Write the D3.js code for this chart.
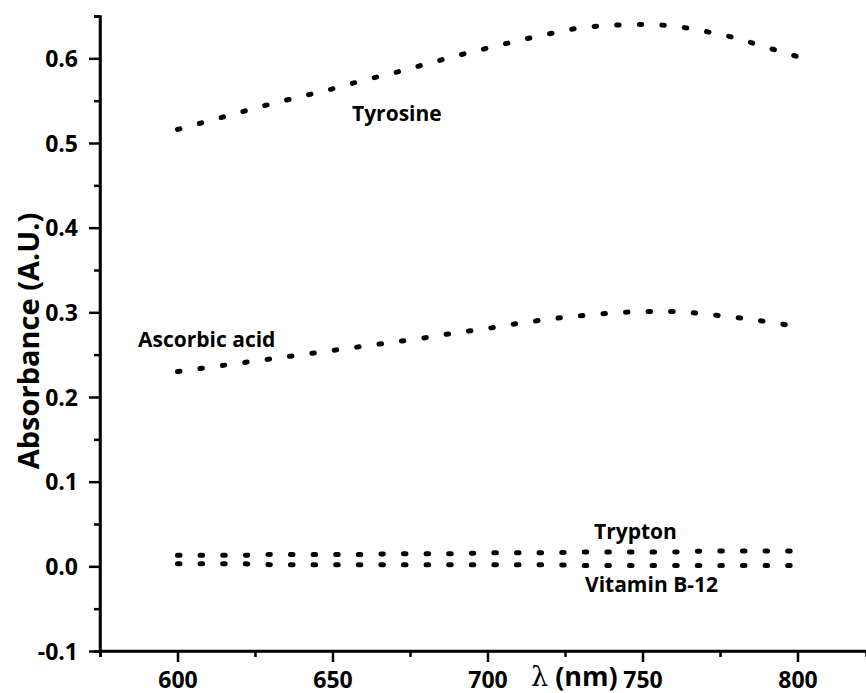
<!DOCTYPE html>
<html>
<head>
<meta charset="utf-8">
<script src="https://cdn.jsdelivr.net/npm/d3@7"></script>
<style>
  html, body { margin: 0; padding: 0; background: #fff; }
  #chart { width: 866px; height: 693px; }
  text { font-family: "Open Sans", Lato, sans-serif; font-weight: bold; fill: #000; }
</style>
</head>
<body>
<div id="chart"></div>
<script>
// wavelength (nm)
const wavelengths = [600, 610, 620, 630, 640, 650, 660, 670, 680, 690, 700,
                     710, 720, 730, 740, 750, 760, 770, 780, 790, 800];

// absorbance (A.U.)
const tyrosine = [0.516, 0.526, 0.536, 0.546, 0.555, 0.564, 0.574, 0.583, 0.593, 0.603, 0.612,
                  0.621, 0.629, 0.636, 0.639, 0.640, 0.638, 0.632, 0.624, 0.613, 0.602];
const ascorbicAcid = [0.230, 0.235, 0.240, 0.245, 0.250, 0.255, 0.260, 0.265, 0.270, 0.276, 0.281,
                      0.287, 0.292, 0.296, 0.299, 0.301, 0.301, 0.298, 0.294, 0.289, 0.283];
const trypton = [0.013, 0.013, 0.013, 0.014, 0.014, 0.014, 0.014, 0.015, 0.015, 0.015, 0.016,
                 0.016, 0.016, 0.017, 0.017, 0.017, 0.017, 0.018, 0.018, 0.018, 0.018];
const vitaminB12 = [0.003, 0.003, 0.003, 0.002, 0.002, 0.002, 0.002, 0.002, 0.002, 0.002, 0.002,
                    0.002, 0.002, 0.001, 0.001, 0.001, 0.001, 0.001, 0.001, 0.001, 0.001];

const seriesNames = ["Tyrosine", "Ascorbic acid", "Trypton", "Vitamin B-12"];
const seriesValues = [tyrosine, ascorbicAcid, trypton, vitaminB12];

const xTicks = [600, 650, 700, 750, 800];
const xMinorTicks = [575, 625, 675, 725, 775];
const yTicks = [-0.1, 0.0, 0.1, 0.2, 0.3, 0.4, 0.5, 0.6];
const yMinorTicks = [-0.05, 0.05, 0.15, 0.25, 0.35, 0.45, 0.55, 0.65];

const width = 866, height = 693;
const margin = { left: 100, top: 16, bottom: 42 };

const svg = d3.select("#chart").append("svg")
    .attr("width", width)
    .attr("height", height);

const x = d3.scaleLinear().domain([575, 822.1]).range([margin.left, width]);
const y = d3.scaleLinear().domain([-0.1, 0.65]).range([height - margin.bottom, margin.top]);

// Series as dotted curves
const line = d3.line()
    .x((d, i) => x(wavelengths[i]))
    .y(d => y(d))
    .curve(d3.curveMonotoneX);

svg.append("g").selectAll("path")
    .data(seriesValues)
    .join("path")
    .attr("d", d => line(d))
    .attr("fill", "none")
    .attr("stroke", "#000")
    .attr("stroke-width", 5)
    .attr("stroke-linecap", "round")
    .attr("stroke-dasharray", "2.5 20.1");

// Axes
const xAxis = svg.append("g").attr("transform", `translate(0,${y(-0.1)})`);
xAxis.call(d3.axisBottom(x).tickValues(xTicks).tickSize(11).tickPadding(10).tickFormat(d3.format("d")));
xAxis.append("g").call(d3.axisBottom(x).tickValues(xMinorTicks).tickSize(6).tickFormat(""));

const yAxis = svg.append("g").attr("transform", `translate(${margin.left},0)`);
yAxis.call(d3.axisLeft(y).tickValues(yTicks).tickSize(11).tickPadding(11).tickFormat(d => d.toFixed(1)));
yAxis.append("g").call(d3.axisLeft(y).tickValues(yMinorTicks).tickSize(6).tickFormat(""));

svg.selectAll(".domain").attr("stroke-width", 2.5);
svg.selectAll(".tick line").attr("stroke-width", 2.5);
svg.selectAll(".tick text")
    .style("font-family", "'Open Sans', Lato, sans-serif")
    .style("font-weight", "bold")
    .style("font-size", "23px");
yAxis.selectAll(".tick text").attr("dy", "0.36em");
xAxis.select(".domain").attr("d", `M${margin.left},0H${width}`);
yAxis.select(".domain").attr("d", `M0,${y(0.65)}V${y(-0.1)}`);

// Axis titles
svg.append("text")
    .attr("transform", `translate(39,341) rotate(-90)`)
    .attr("text-anchor", "middle")
    .style("font-size", "29px")
    .text("Absorbance (A.U.)");

const xTitle = svg.append("text")
    .attr("x", 531)
    .attr("y", 686)
    .style("font-size", "27px");
xTitle.append("tspan")
    .style("font-family", "'DejaVu Serif', serif")
    .style("font-weight", "normal")
    .text("λ");
xTitle.append("tspan").text(" (nm)");

// Series labels
const labelPos = [[352, 121], [138, 347], [594, 539], [585, 592]];
svg.append("g").selectAll("text")
    .data(seriesNames)
    .join("text")
    .attr("x", (d, i) => labelPos[i][0])
    .attr("y", (d, i) => labelPos[i][1])
    .style("font-size", "21px")
    .text(d => d);
</script>
</body>
</html>
